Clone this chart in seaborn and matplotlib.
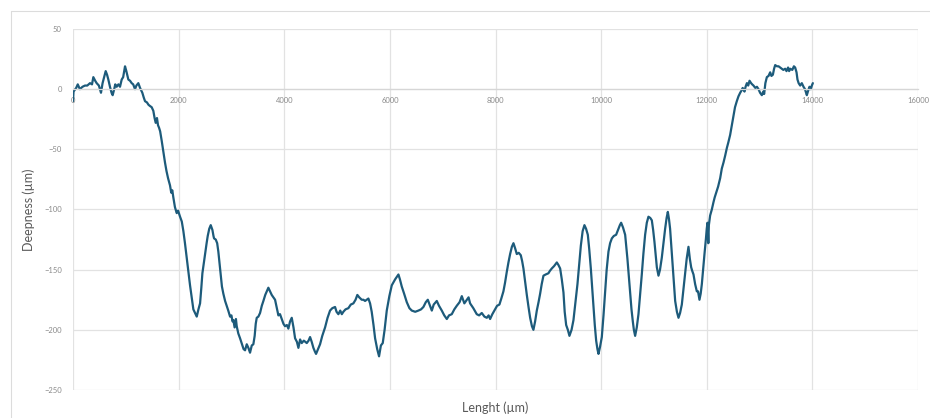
import matplotlib
matplotlib.use("Agg")
import matplotlib.pyplot as plt
from matplotlib.lines import Line2D
import pandas as pd
import seaborn as sns

# Surface profile: position along the scan and measured depth, both in µm
length_um = [
    0, 10, 60, 90, 130, 180, 227, 270, 322, 360, 385, 420, 448, 490, 530, 560, 600, 619, 645, 669,
    700, 730, 751, 780, 800, 827, 860, 890, 922, 950, 985, 1010, 1048, 1080, 1111, 1140, 1174, 1200,
    1237, 1270, 1313, 1340, 1364, 1400, 1430, 1458, 1490, 1521, 1545, 1566, 1590, 1610, 1629, 1650,
    1680, 1710, 1742, 1770, 1800, 1837, 1860, 1880, 1900, 1930, 1964, 1990, 2027, 2060, 2090, 2120,
    2153, 2185, 2216, 2250, 2279, 2310, 2343, 2375, 2406, 2430, 2450, 2475, 2500, 2530, 2551, 2580,
    2608, 2640, 2660, 2671, 2703, 2730, 2752, 2775, 2797, 2820, 2847, 2880, 2911, 2940, 2974, 3000,
    3020, 3037, 3060, 3085, 3100, 3130, 3163, 3200, 3230, 3258, 3290, 3321, 3352, 3385, 3415, 3440,
    3460, 3479, 3510, 3542, 3575, 3605, 3640, 3670, 3699, 3730, 3763, 3795, 3826, 3860, 3889, 3920,
    3952, 3985, 4015, 4050, 4078, 4110, 4142, 4175, 4205, 4240, 4268, 4300, 4331, 4370, 4400, 4426,
    4460, 4489, 4520, 4552, 4580, 4602, 4640, 4678, 4720, 4773, 4820, 4867, 4910, 4962, 4990, 5025,
    5060, 5090, 5119, 5160, 5214, 5260, 5309, 5350, 5384, 5420, 5467, 5500, 5530, 5560, 5593, 5625,
    5656, 5690, 5720, 5760, 5795, 5830, 5865, 5900, 5941, 5990, 6036, 6100, 6162, 6190, 6225, 6270,
    6320, 6370, 6415, 6480, 6540, 6590, 6635, 6680, 6718, 6760, 6794, 6830, 6888, 6930, 6983, 7030,
    7078, 7120, 7172, 7220, 7267, 7320, 7362, 7410, 7457, 7490, 7519, 7580, 7645, 7690, 7740, 7790,
    7835, 7870, 7898, 7940, 7992, 8030, 8074, 8110, 8150, 8180, 8213, 8245, 8277, 8310, 8340, 8370,
    8403, 8440, 8479, 8505, 8529, 8560, 8593, 8625, 8656, 8690, 8718, 8750, 8782, 8815, 8845, 8875,
    8908, 8950, 9002, 9030, 9066, 9110, 9161, 9190, 9224, 9255, 9287, 9310, 9338, 9370, 9400, 9440,
    9476, 9515, 9552, 9585, 9616, 9650, 9684, 9715, 9748, 9775, 9805, 9830, 9855, 9880, 9906, 9930,
    9950, 9980, 10013, 10045, 10076, 10105, 10139, 10170, 10203, 10240, 10284, 10310, 10328, 10355,
    10379, 10415, 10455, 10475, 10498, 10525, 10549, 10575, 10600, 10620, 10644, 10675, 10707, 10740,
    10770, 10800, 10833, 10865, 10896, 10930, 10960, 10985, 11010, 11035, 11055, 11086, 11115, 11149,
    11180, 11212, 11240, 11263, 11285, 11306, 11330, 11358, 11380, 11402, 11435, 11465, 11495, 11528,
    11560, 11591, 11620, 11654, 11680, 11705, 11725, 11749, 11780, 11812, 11835, 11862, 11885, 11907,
    11930, 11957, 11985, 12000, 12014, 12025, 12030, 12040, 12064, 12096, 12127, 12150, 12178, 12215,
    12254, 12285, 12317, 12350, 12380, 12410, 12443, 12475, 12506, 12535, 12569, 12600, 12633, 12660,
    12680, 12695, 12715, 12735, 12760, 12785, 12810, 12840, 12860, 12885, 12920, 12950, 12980, 13010,
    13043, 13070, 13087, 13110, 13138, 13170, 13201, 13225, 13252, 13275, 13296, 13330, 13360, 13390,
    13420, 13450, 13485, 13510, 13540, 13560, 13580, 13620, 13650, 13674, 13700, 13718, 13740, 13769,
    13800, 13832, 13860, 13880, 13895, 13915, 13945, 13970, 13990, 14009,
]

depth_um = [
    -10, -2, 1, 4, 0, 2, 3, 3, 5, 4, 10, 7, 5, 3, -3, 5, 12, 15, 12, 8,
    2, -3, -5, 0, 4, 2, 4, 2, 8, 10, 19, 15, 8, 7, 5, 4, 0, 3,
    5, 1, -3, -7, -10, -11, -13, -14, -15, -18, -24, -28, -24, -30, -32, -35,
    -43, -52, -61, -68, -74, -80, -86, -84, -90, -98, -103, -101, -106, -110, -118, -128,
    -140, -152, -163, -174, -183, -186, -189, -183, -178, -165, -153, -145, -137, -128, -122, -116,
    -113, -117, -122, -124, -125, -128, -135, -145, -155, -164, -170, -176, -180, -184, -189, -188,
    -193, -192, -198, -191, -197, -203, -207, -212, -216, -217, -212, -215, -219, -213, -212, -205,
    -195, -190, -189, -186, -180, -176, -171, -168, -165, -168, -171, -173, -175, -182, -188, -187,
    -191, -195, -197, -196, -199, -193, -190, -198, -207, -210, -215, -208, -211, -209, -210, -211,
    -209, -206, -210, -215, -218, -220, -216, -212, -205, -198, -190, -184, -182, -181, -185, -187,
    -184, -187, -185, -183, -182, -179, -178, -175, -171, -173, -175, -175, -176, -175, -174, -178,
    -185, -196, -207, -216, -222, -213, -211, -200, -184, -172, -163, -158, -154, -158, -164, -170,
    -177, -182, -184, -185, -184, -183, -181, -177, -175, -180, -184, -179, -176, -180, -184, -188,
    -191, -188, -187, -183, -180, -177, -172, -178, -175, -173, -178, -182, -187, -188, -186, -189,
    -190, -188, -191, -187, -183, -180, -179, -174, -168, -161, -152, -144, -137, -131, -128, -132,
    -137, -136, -138, -143, -149, -160, -171, -181, -190, -197, -200, -193, -184, -177, -170, -162,
    -155, -154, -153, -151, -149, -147, -144, -146, -149, -158, -169, -185, -196, -200, -205, -200,
    -192, -177, -162, -145, -130, -118, -113, -116, -121, -133, -149, -165, -181, -196, -209, -216,
    -220, -214, -206, -188, -168, -150, -135, -128, -124, -122, -121, -118, -116, -113,
    -111, -115, -121, -130, -141, -156, -170, -183, -193, -200, -205, -198, -187, -170,
    -154, -137, -121, -111, -106, -107, -109, -117, -127, -139, -148, -155, -150, -140,
    -128, -116, -107, -102, -108, -116, -131, -148, -163, -176, -185, -190, -186, -179,
    -166, -154, -141, -131, -141, -148, -151, -154, -162, -168, -168, -175, -170, -162,
    -150, -137, -124, -116, -111, -122, -128, -113, -105, -100, -94, -90, -86, -81,
    -74, -66, -61, -55, -49, -44, -38, -30, -22, -15, -10, -6, -3, -1,
    1, 0, -2, 2, 5, 3, 7, 5, 4, 3, 1, 2, 0, -3,
    -5, -2, -4, 5, 10, 11, 14, 11, 12, 17, 20, 19, 19, 18,
    17, 16, 17, 15, 18, 15, 17, 16, 19, 18, 14, 8, 5, 3,
    5, 2, 0, -3, -5, -2, 2, 0, 3, 5,
]

x_ticks = list(range(0, 16001, 2000))
y_ticks = list(range(-250, 51, 50))

profile = pd.DataFrame({"length": length_um, "depth": depth_um})

sns.set_theme(style="white")
plt.rcParams["font.family"] = ["Lato", "DejaVu Sans"]

W, H = 930, 418
fig = plt.figure(figsize=(W / 100, H / 100), dpi=100)
fig.patch.set_facecolor("white")

# Plot area in pixel terms: left 73, right 918, top 29, bottom 390
ax = fig.add_axes([73 / W, 1 - 390 / H, (918 - 73) / W, (390 - 29) / H])

sns.lineplot(data=profile, x="length", y="depth", ax=ax, sort=False,
             estimator=None, color="#1d5b7b", linewidth=1.6)

ax.set_xlim(0, 16000)
ax.set_ylim(-250, 50)
ax.set_xticks(x_ticks)
ax.set_yticks(y_ticks)
ax.grid(True, color="#e2e2e2", linewidth=0.9)
ax.set_axisbelow(True)

for side in ("top", "right", "left"):
    ax.spines[side].set_visible(False)
# horizontal axis crosses at depth 0, with its labels riding along it
ax.spines["bottom"].set_position(("data", 0))
ax.spines["bottom"].set_color("#d6d6d6")
ax.spines["bottom"].set_linewidth(0.9)

ax.tick_params(axis="x", length=0, pad=6, labelsize=5.5, labelcolor="#8a8a8a")
ax.tick_params(axis="y", length=0, pad=8, labelsize=5.5, labelcolor="#8a8a8a")

ax.set_xlabel("Lenght (µm)", fontsize=9, color="#595959", va="center")
ax.set_ylabel("Deepness (µm)", fontsize=9, color="#595959", va="center")
ax.xaxis.set_label_coords(0.5, -18 / 361)
ax.yaxis.set_label_coords(-44 / 845, 0.5)

# thin chart-area border on the left and top edges
border = "#dcdcdc"
fig.add_artist(Line2D([10.5 / W, 10.5 / W], [0, 1 - 10.5 / H], color=border, linewidth=0.8))
fig.add_artist(Line2D([10.5 / W, 1], [1 - 10.5 / H, 1 - 10.5 / H], color=border, linewidth=0.8))

fig.savefig("out.png", dpi=100, facecolor="white")
